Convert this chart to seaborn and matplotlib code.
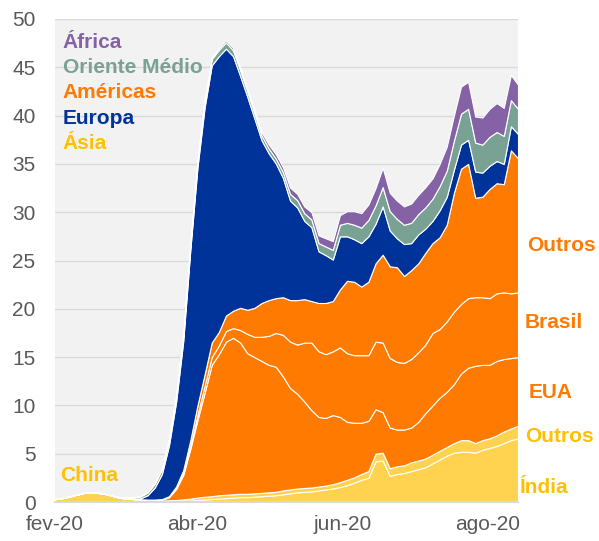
"""Daily deaths by region (7-day average), stacked areas."""

import matplotlib

matplotlib.use("Agg")
import matplotlib.pyplot as plt
import numpy as np
import pandas as pd
import seaborn as sns

# one point every 3 days, 2020-02-01 .. 2020-08-14
dates = pd.date_range("2020-02-01", periods=66, freq="3D")

china = [0.30, 0.40, 0.55, 0.75, 0.95, 1.00, 0.95, 0.85, 0.65, 0.45, 0.35, 0.30, 0.25, 0.20, 0.15,
         0.10, 0.08, 0.07, 0.06, 0.05,
         0.05, 0.05, 0.05, 0.05, 0.05, 0.05, 0.05, 0.05, 0.05, 0.05, 0.05,
         0.03, 0.03, 0.03, 0.03, 0.03, 0.03, 0.03, 0.03, 0.03, 0.03, 0.03,
         0.02, 0.02, 0.02, 0.02, 0.02, 0.02, 0.02, 0.02, 0.02, 0.02, 0.02, 0.02,
         0.02, 0.02, 0.02, 0.02, 0.02, 0.02, 0.02, 0.02, 0.02, 0.02, 0.02, 0.02]
india = [0] * 15 + [
    0.02, 0.04, 0.05, 0.08, 0.12, 0.15, 0.20, 0.25, 0.30, 0.35, 0.40, 0.45, 0.45, 0.50, 0.55, 0.60,
    0.67, 0.77, 0.87, 0.97, 1.02, 1.07, 1.17, 1.27, 1.37, 1.52, 1.72, 1.98, 2.28, 2.48,
    4.18, 4.28, 2.68, 2.88, 2.98, 3.18, 3.38, 3.58, 3.98, 4.38, 4.78, 5.08, 5.18, 5.18,
    5.08, 5.38, 5.58, 5.78, 6.08, 6.38, 6.58]
outros_asia = [0] * 9 + [0.02, 0.02, 0.02, 0.02, 0.03, 0.03] + [
    0.03, 0.06, 0.08, 0.13, 0.18, 0.25, 0.30, 0.30, 0.35, 0.35, 0.35, 0.35, 0.35, 0.35, 0.35, 0.35,
    0.35, 0.40, 0.40, 0.40, 0.40, 0.40, 0.40, 0.40, 0.45, 0.50, 0.55, 0.55, 0.60, 0.70,
    0.80, 0.80, 0.80, 0.80, 0.80, 0.90, 0.90, 0.90, 0.90, 0.90, 0.90, 1.00, 1.20, 1.20,
    1.00, 1.00, 1.00, 1.10, 1.20, 1.20, 1.30]
eua = [0] * 12 + [0.01, 0.02, 0.05] + [
    0.10, 0.32, 1.15, 2.53, 5.15, 8.05, 10.75, 13.6, 14.6, 15.85, 16.2, 15.65, 14.55, 14.1, 13.65, 13.2,
    12.95, 11.8, 10.5, 9.8, 8.95, 8.0, 7.2, 7.0, 7.15, 6.75, 6.0, 5.65, 5.3, 5.2,
    4.6, 4.2, 4.2, 3.8, 3.7, 3.6, 4.0, 4.7, 5.1, 5.5, 5.7, 6.1, 6.9, 7.5,
    8.0, 7.8, 7.6, 7.7, 7.5, 7.3, 7.1]
brasil = [0] * 16 + [
    0.05, 0.10, 0.20, 0.30, 0.50, 0.70, 0.80, 0.90, 1.10, 1.00, 1.30, 2.00, 2.10, 2.50, 3.00,
    3.5, 4.3, 4.8, 5.1, 6.1, 7.0, 6.8, 6.6, 6.6, 7.2, 7.1, 7.0, 7.0, 6.8,
    7.0, 7.2, 7.2, 7.0, 6.9, 7.1, 7.2, 7.1, 7.5, 7.1, 7.3, 7.5, 7.2, 7.2,
    7.1, 7.0, 6.9, 7.0, 6.9, 6.7, 6.7]
outros_americas = [0] * 14 + [0.02, 0.05] + [
    0.05, 0.15, 0.30, 0.60, 1.0, 1.2, 1.5, 1.4, 1.6, 1.8, 2.3, 2.5, 3.0, 3.5, 3.7,
    3.6, 3.9, 4.3, 4.6, 4.5, 4.3, 5.0, 5.3, 5.2, 6.0, 7.5, 7.6, 7.1, 7.6,
    8.1, 9.1, 9.5, 9.8, 9.0, 9.2, 9.2, 9.5, 9.3, 9.5, 10.0, 12.3, 14.0, 13.9,
    10.3, 10.4, 11.3, 11.4, 11.2, 14.8, 13.9]
europa = [0] * 10 + [0.02, 0.05, 0.10, 0.45, 1.25] + [
    2.58, 5.27, 8.76, 13.35, 19.73, 24.65, 27.63, 28.7, 28.55, 27.63, 26.35, 24.0, 22.05, 19.6, 16.85, 15.2,
    13.95, 12.35, 10.3, 9.6, 8.1, 7.65, 5.35, 4.95, 4.3, 5.5, 4.6, 4.4, 4.5, 4.7,
    4.1, 5.0, 3.7, 3.0, 3.3, 2.8, 3.0, 2.5, 2.3, 2.8, 2.9, 2.4, 2.5, 2.5,
    2.7, 2.5, 2.4, 2.3, 2.1, 2.5, 2.5]
oriente_medio = [0] * 9 + [0.03, 0.08, 0.12, 0.20, 0.30, 0.40] + [
    0.50, 0.60, 0.60, 0.60, 0.60, 0.65, 0.65, 0.65, 0.65, 0.65, 0.60, 0.60, 0.55, 0.55, 0.50, 0.50,
    0.50, 0.60, 0.70, 0.75, 0.80, 0.80, 0.85, 0.90, 1.00, 1.20, 1.40, 1.50, 1.60, 1.70,
    1.9, 2.0, 2.0, 2.0, 2.0, 2.1, 2.1, 2.2, 2.3, 2.5, 2.7, 3.0, 3.2, 3.2,
    3.0, 2.9, 3.0, 3.0, 2.9, 2.7, 2.6]
africa = [0] * 12 + [0.01, 0.01, 0.02] + [
    0.02, 0.03, 0.04, 0.05, 0.07, 0.10, 0.12, 0.15, 0.20, 0.22, 0.25, 0.30, 0.30, 0.35, 0.35, 0.40,
    0.45, 0.50, 0.65, 0.65, 0.70, 0.75, 0.80, 0.85, 0.90, 1.00, 1.20, 1.40, 1.50, 1.60,
    1.8, 2.0, 1.9, 1.9, 1.9, 2.0, 2.0, 2.1, 2.1, 2.3, 2.5, 2.6, 2.8, 2.8,
    2.7, 2.8, 2.9, 3.0, 2.9, 2.6, 2.5]

tick_dates = ["2020-02-01", "2020-04-01", "2020-06-01", "2020-08-01"]
tick_labels = ["fev-20", "abr-20", "jun-20", "ago-20"]

YELLOW = "#FFD34F"
ORANGE = "#FF7A00"
BLUE = "#003399"
GREEN = "#79A295"
PURPLE = "#8561A6"
GOLD = "#FFC000"

sns.set_style("white", {"axes.facecolor": "#F2F2F2"})
plt.rcParams["font.family"] = ["Liberation Sans", "DejaVu Sans"]

fig = plt.figure(figsize=(5.99, 5.41), dpi=100)
ax = fig.add_axes([55 / 599, 1 - 502 / 541, 463 / 599, 483 / 541])

series = [china, india, outros_asia, eua, brasil, outros_americas, europa, oriente_medio, africa]
colors = [YELLOW, YELLOW, YELLOW, ORANGE, ORANGE, ORANGE, BLUE, GREEN, PURPLE]
ax.stackplot(dates, *[np.array(s) for s in series], colors=colors,
             edgecolor="white", linewidth=0.8)

ax.set_ylim(0, 50)
ax.set_yticks(range(0, 51, 5))
ax.set_xlim(pd.Timestamp("2020-02-01") + pd.Timedelta(hours=10), dates[-1])
ax.set_xticks(pd.to_datetime(tick_dates))
ax.set_xticklabels(tick_labels)

ax.set_axisbelow(True)
ax.yaxis.grid(True, color="#D9D9D9", linewidth=1)
ax.xaxis.grid(False)
for side in ["top", "right", "left"]:
    ax.spines[side].set_visible(False)
ax.spines["bottom"].set_color("#D9D9D9")
ax.spines["bottom"].set_linewidth(1.5)
ax.tick_params(axis="both", length=0, labelsize=15, labelcolor="#595959")
ax.tick_params(axis="y", pad=14)
ax.tick_params(axis="x", pad=9)

# region legend at the top left
legend_items = [("África", PURPLE), ("Oriente Médio", GREEN), ("Américas", ORANGE),
                ("Europa", BLUE), ("Ásia", GOLD)]
for i, (name, col) in enumerate(legend_items):
    ax.text(0.017, 0.952 - i * 0.0525, name, transform=ax.transAxes, color=col,
            fontsize=15, fontweight="bold", va="center", ha="left")

# labels for the sub-layers at the right
right_labels = [("Outros", ORANGE, 1.019, 0.532), ("Brasil", ORANGE, 1.015, 0.371),
                ("EUA", ORANGE, 1.024, 0.226), ("Outros", GOLD, 1.015, 0.135),
                ("Índia", GOLD, 1.004, 0.031)]
for name, col, x, y in right_labels:
    ax.text(x, y, name, transform=ax.transAxes, color=col, fontsize=15,
            fontweight="bold", va="center", ha="left", clip_on=False)

ax.text(0.011, 0.054, "China", transform=ax.transAxes, color=GOLD, fontsize=15,
        fontweight="bold", va="center", ha="left")

fig.savefig("out.png", dpi=100)
plt.close(fig)
